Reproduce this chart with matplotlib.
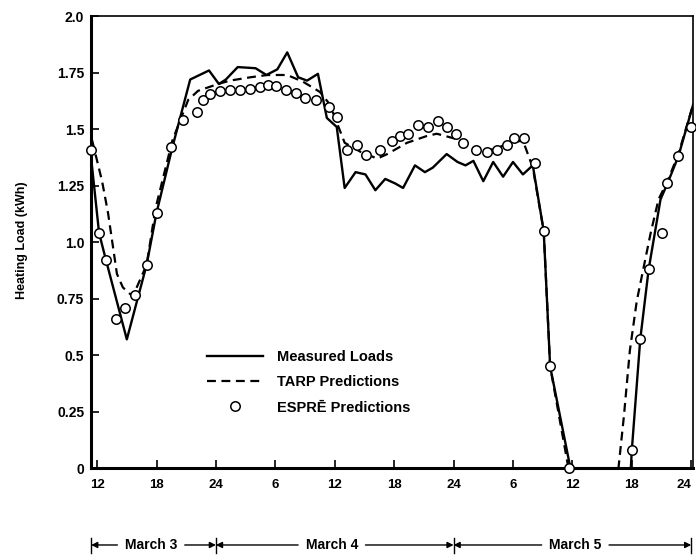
import matplotlib
matplotlib.use('Agg')
import matplotlib.pyplot as plt

plt.rcParams['font.family'] = ['Liberation Sans', 'DejaVu Sans']
plt.rcParams['font.weight'] = 'bold'

# hours counted from midnight at the start of March 3
measured_x = [11.4, 12.2, 12.9, 15.0, 17.0, 18.0, 19.6, 21.4, 23.3, 24.3,
              25.0, 26.2, 28.0, 29.1, 30.2, 31.2, 32.3, 33.2, 34.3, 35.2,
              36.2, 37.0, 38.1, 39.1, 40.1, 41.1, 42.1, 42.9, 44.1, 45.1,
              45.9, 47.3, 48.4, 49.2, 50.0, 51.0, 52.0, 53.0, 54.0, 55.0,
              56.0, 57.1, 57.75, 59.8, 65.9, 66.0, 66.85, 67.7, 68.9, 69.6,
              70.7, 72.2]
measured_y = [1.37, 1.04, 0.92, 0.57, 0.90, 1.13, 1.42, 1.72, 1.76, 1.70,
              1.72, 1.775, 1.77, 1.74, 1.765, 1.84, 1.73, 1.715, 1.745, 1.55,
              1.51, 1.24, 1.31, 1.30, 1.23, 1.28, 1.26, 1.24, 1.34, 1.31,
              1.33, 1.39, 1.355, 1.34, 1.36, 1.27, 1.355, 1.29, 1.355, 1.30,
              1.34, 1.05, 0.45, 0.0, 0.0, 0.08, 0.57, 0.88, 1.19, 1.26,
              1.38, 1.61]

tarp_x = [11.5, 12.5, 13.1, 14.0, 14.6, 15.6, 17.0, 17.9, 19.6, 21.2,
          22.2, 24.2, 25.4, 27.5, 29.2, 31.2, 32.8, 34.5, 35.5, 36.2,
          37.0, 38.6, 40.3, 41.3, 43.3, 45.3, 46.3, 48.0, 49.4, 50.0,
          52.0, 53.7, 55.0, 56.0, 57.1, 57.75, 59.6, 64.0, 64.65, 65.2,
          65.8, 66.5, 67.2, 67.9, 68.7, 69.6, 70.7, 72.2]
tarp_y = [1.45, 1.27, 1.13, 0.86, 0.80, 0.76, 0.90, 1.15, 1.45, 1.63,
          1.67, 1.70, 1.715, 1.73, 1.74, 1.74, 1.71, 1.665, 1.61, 1.53,
          1.44, 1.40, 1.37, 1.39, 1.44, 1.47, 1.48, 1.46, 1.44, 1.415,
          1.41, 1.44, 1.45, 1.33, 1.05, 0.45, 0.0, 0.0, 0.0, 0.23,
          0.52, 0.74, 0.89, 1.04, 1.19, 1.27, 1.39, 1.61]

espre_x = [11.4, 12.2, 12.9, 13.9, 14.8, 15.8, 17.0, 18.0, 19.5, 20.7,
           22.1, 22.7, 23.4, 24.4, 25.4, 26.4, 27.4, 28.4, 29.3, 30.1,
           31.1, 32.1, 33.0, 34.1, 35.4, 36.2, 37.2, 38.2, 39.2, 40.6,
           41.8, 42.6, 43.4, 44.4, 45.4, 46.4, 47.3, 48.2, 49.0, 50.3,
           51.4, 52.4, 53.4, 54.1, 55.1, 56.2, 57.1, 57.75, 59.7, 66.0,
           66.85, 67.7, 69.0, 69.6, 70.7, 72.0]
espre_y = [1.41, 1.04, 0.92, 0.66, 0.71, 0.765, 0.90, 1.13, 1.42, 1.54,
           1.575, 1.63, 1.655, 1.67, 1.675, 1.675, 1.68, 1.685, 1.695, 1.69,
           1.675, 1.66, 1.64, 1.63, 1.60, 1.555, 1.41, 1.43, 1.385, 1.41,
           1.45, 1.47, 1.48, 1.52, 1.51, 1.535, 1.51, 1.48, 1.44, 1.41,
           1.40, 1.41, 1.43, 1.46, 1.46, 1.35, 1.05, 0.45, 0.0, 0.08,
           0.57, 0.88, 1.04, 1.26, 1.38, 1.51]

x_ticks = [12, 18, 24, 30, 36, 42, 48, 54, 60, 66, 72]
x_labels = ['12', '18', '24', '6', '12', '18', '24', '6', '12', '18', '24']
y_ticks = [0, 0.25, 0.5, 0.75, 1.0, 1.25, 1.5, 1.75, 2.0]
y_labels = ['0', '0.25', '0.5', '0.75', '1.0', '1.25', '1.5', '1.75', '2.0']

days = ['March 3', 'March 4', 'March 5']
day_bounds = [11.4, 24, 48, 72]
day_centers = [17.45, 35.7, 60.3]

fig = plt.figure(figsize=(6.96, 5.6), dpi=100)
ax = fig.add_axes([0.131, 0.164, 0.865, 0.807])

ax.plot(measured_x, measured_y, color='k', lw=1.7, label='Measured Loads')
ax.plot(tarp_x, tarp_y, color='k', lw=1.6, dashes=(4, 2.5), label='TARP Predictions')
ax.plot(espre_x, espre_y, linestyle='none', marker='o', ms=6.8, mfc='white',
        mec='k', mew=1.1, clip_on=False, zorder=3, label='ESPR\u0112 Predictions')

ax.set_xlim(11.4, 72.2)
ax.set_ylim(0, 2.0)
ax.set_xticks(x_ticks)
ax.set_xticklabels(x_labels, fontsize=9.5)
ax.get_xticklabels()[-1].set_horizontalalignment('right')
ax.set_yticks(y_ticks)
ax.set_yticklabels(y_labels, fontsize=10)
ax.tick_params(axis='both', direction='in', length=6, width=1.2)
ax.tick_params(axis='x', pad=8)
ax.tick_params(axis='y', pad=5)

for side in ['left', 'bottom']:
    ax.spines[side].set_linewidth(2.2)
for side in ['top', 'right']:
    ax.spines[side].set_linewidth(1.2)

ax.set_ylabel('Heating Load (kWh)', fontsize=9, fontweight='bold')
ax.yaxis.set_label_coords(-0.105, 0.504)

ax.legend(loc='upper left', bbox_to_anchor=(0.193, 0.262), frameon=False,
          fontsize=10.5, handlelength=3.8, handletextpad=1.0, labelspacing=0.78,
          numpoints=1, borderpad=0, borderaxespad=0)

# day markers under the axis
trans = ax.get_xaxis_transform()
y_row = -0.17
for b in day_bounds:
    ax.plot([b, b], [y_row + 0.016, y_row - 0.018], transform=trans, color='k',
            lw=1, clip_on=False)
for i, name in enumerate(days):
    c = day_centers[i]
    ax.text(c, y_row, name, transform=trans, ha='center', va='center', fontsize=10)
    half = 3.4
    ax.annotate('', xy=(day_bounds[i], y_row), xytext=(c - half, y_row),
                xycoords=trans, textcoords=trans,
                arrowprops=dict(arrowstyle='-|>', color='k', lw=1,
                                shrinkA=0, shrinkB=0, mutation_scale=9))
    ax.annotate('', xy=(day_bounds[i + 1], y_row), xytext=(c + half, y_row),
                xycoords=trans, textcoords=trans,
                arrowprops=dict(arrowstyle='-|>', color='k', lw=1,
                                shrinkA=0, shrinkB=0, mutation_scale=9))

fig.savefig('out.png', dpi=100)
